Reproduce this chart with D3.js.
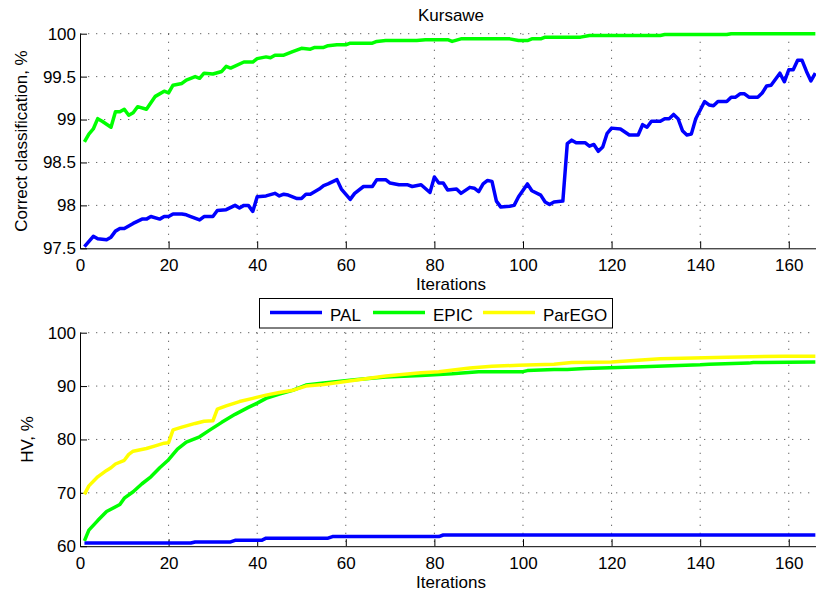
<!DOCTYPE html>
<html>
<head>
<meta charset="utf-8">
<script src="https://cdn.jsdelivr.net/npm/d3@7.8.5/dist/d3.min.js"></script>
<style>
  body { margin: 0; background: #fff; }
  svg { display: block; font-family: "Liberation Sans", Arial, Helvetica, sans-serif; }
</style>
</head>
<body>
<svg id="chart" width="816" height="599"></svg>
<script>
// ---- data ----
const iterTicks = [0, 20, 40, 60, 80, 100, 120, 140, 160]
const ccTicks = [97.5, 98, 98.5, 99, 99.5, 100]
const hvTicks = [60, 70, 80, 90, 100]

const seriesNames = ["PAL", "EPIC", "ParEGO"]
const seriesColors = ["#0000ff", "#00ff00", "#ffff00"]

// top panel: correct classification, %  [iteration, value]
const palCorrect = [[1,97.52],[3,97.64],[4,97.61],[6,97.60],[7,97.63],[8,97.70],[9,97.73],[10,97.73],[12,97.79],[14,97.84],[15,97.84],[16,97.87],[18,97.84],[19,97.87],[20,97.87],[21,97.90],[23,97.90],[24,97.89],[25,97.87],[27,97.83],[28,97.87],[30,97.87],[31,97.94],[33,97.95],[35,98.00],[36,97.97],[37,98.00],[38,98.00],[39,97.93],[40,98.10],[42,98.11],[44,98.14],[45,98.11],[46,98.13],[47,98.12],[49,98.08],[50,98.08],[51,98.13],[52,98.13],[54,98.19],[55,98.23],[56,98.25],[58,98.30],[59,98.19],[61,98.07],[62,98.14],[64,98.22],[66,98.22],[67,98.30],[69,98.30],[70,98.26],[72,98.24],[74,98.24],[75,98.22],[77,98.24],[79,98.15],[80,98.33],[81,98.26],[82,98.26],[83,98.18],[85,98.19],[86,98.14],[88,98.21],[89,98.20],[90,98.16],[91,98.25],[92,98.29],[93,98.28],[94,98.05],[95,97.98],[97,97.99],[98,98.00],[99,98.10],[101,98.25],[102,98.17],[104,98.12],[105,98.04],[106,98.01],[107,98.04],[109,98.05],[110,98.72],[111,98.76],[112,98.73],[114,98.73],[115,98.69],[116,98.71],[117,98.63],[118,98.68],[119,98.84],[120,98.90],[122,98.89],[124,98.82],[126,98.82],[127,98.94],[128,98.91],[129,98.98],[131,98.98],[132,99.01],[133,99.01],[134,99.06],[135,99.01],[136,98.87],[137,98.82],[138,98.83],[139,99.01],[141,99.21],[142,99.17],[143,99.16],[144,99.21],[146,99.21],[147,99.26],[148,99.26],[149,99.30],[150,99.30],[151,99.26],[153,99.26],[154,99.31],[155,99.39],[156,99.40],[158,99.54],[159,99.44],[160,99.58],[161,99.58],[162,99.69],[163,99.69],[164,99.56],[165,99.45],[166,99.54]]
const epicCorrect = [[1,98.74],[2,98.83],[3,98.89],[4,99.01],[5,98.98],[7,98.91],[8,99.09],[9,99.09],[10,99.12],[11,99.05],[12,99.08],[13,99.15],[15,99.12],[17,99.27],[19,99.33],[20,99.31],[21,99.40],[23,99.42],[24,99.46],[26,99.50],[27,99.48],[28,99.54],[30,99.53],[32,99.56],[33,99.62],[34,99.60],[37,99.67],[39,99.67],[40,99.71],[42,99.73],[43,99.72],[44,99.75],[46,99.75],[48,99.79],[50,99.83],[52,99.82],[53,99.84],[55,99.84],[56,99.86],[58,99.87],[60,99.87],[61,99.89],[66,99.89],[67,99.91],[69,99.92],[76,99.92],[78,99.93],[83,99.93],[84,99.91],[86,99.94],[97,99.94],[99,99.92],[101,99.92],[102,99.94],[104,99.94],[105,99.96],[113,99.96],[115,99.98],[131,99.98],[132,99.99],[146,99.99],[147,100.0],[166,100.0]]

// bottom panel: HV, %
const palHV = [[1,60.6],[25,60.6],[26,60.8],[34,60.8],[35,61.1],[41,61.1],[42,61.5],[56,61.5],[57,61.8],[81,61.8],[82,62.1],[166,62.1]]
const epicHV = [[1,61.0],[2,63.0],[4,64.8],[6,66.5],[9,67.8],[10,69.0],[12,70.2],[14,71.7],[16,73.0],[18,74.7],[20,76.2],[22,78.2],[24,79.5],[27,80.5],[29,81.6],[32,83.2],[35,84.7],[38,86.0],[40,86.8],[42,87.7],[45,88.5],[48,89.2],[51,90.2],[55,90.6],[62,91.2],[69,91.7],[77,92.0],[84,92.3],[90,92.7],[100,92.7],[101,92.9],[107,93.1],[110,93.1],[114,93.3],[127,93.6],[140,94.0],[142,94.1],[151,94.3],[152,94.4],[166,94.5]]
const paregoHV = [[1,69.7],[2,71.3],[4,73.0],[6,74.2],[7,74.7],[8,75.4],[10,76.1],[11,77.2],[12,77.8],[15,78.3],[17,78.8],[19,79.3],[20,79.4],[21,81.8],[23,82.3],[26,83.0],[28,83.4],[30,83.5],[31,85.7],[33,86.3],[36,87.1],[39,87.7],[42,88.3],[45,88.8],[48,89.2],[51,90.0],[55,90.3],[62,91.1],[69,91.9],[77,92.5],[81,92.7],[88,93.4],[93,93.7],[99,93.9],[107,94.1],[111,94.4],[120,94.5],[125,94.8],[131,95.1],[146,95.4],[159,95.6],[166,95.6]]

const fontSize = 17
const svg = d3.select("#chart")

// x range runs past the right edge of the picture, as in the original
const x = d3.scaleLinear().domain([0, 167.5]).range([80, 822])

function drawPanel({top, bottom, domain, ticks, tickFormat, yLabel, yLabelX, series, title}) {
  const y = d3.scaleLinear().domain(domain).range([bottom, top])
  const g = svg.append("g")

  // dotted grid
  g.append("g").selectAll("line").data(ticks.slice(1)).join("line")
    .attr("x1", 80).attr("x2", 816)
    .attr("y1", d => y(d)).attr("y2", d => y(d))
  g.append("g").selectAll("line").data(iterTicks.slice(1)).join("line")
    .attr("x1", d => x(d)).attr("x2", d => x(d))
    .attr("y1", top).attr("y2", bottom)
  g.selectAll("g line")
    .attr("stroke", "#000").attr("stroke-opacity", 0.6)
    .attr("stroke-width", 1).attr("stroke-dasharray", "1.3,6.7")

  // axes, ticks pointing inwards like matlab
  const xAxis = d3.axisBottom(x).tickValues(iterTicks).tickSize(-7).tickPadding(12).tickSizeOuter(0)
  const yAxis = d3.axisLeft(y).tickValues(ticks).tickFormat(tickFormat).tickSize(-7).tickPadding(4).tickSizeOuter(0)

  const gx = g.append("g").attr("transform", `translate(0,${bottom})`).call(xAxis)
  const gy = g.append("g").attr("transform", "translate(80,0)").call(yAxis)
  for (const a of [gx, gy]) {
    a.select(".domain").attr("stroke", "#000")
    a.selectAll(".tick line").attr("stroke", "#000")
    a.selectAll("text").attr("font-size", fontSize).attr("fill", "#000").attr("font-family", null)
  }
  gx.selectAll("text").attr("dy", "0.65em")

  // lines
  const line = d3.line().x(d => x(d[0])).y(d => y(d[1]))
  g.append("g").selectAll("path").data(series).join("path")
    .attr("d", d => line(d.values))
    .attr("fill", "none")
    .attr("stroke", d => d.color)
    .attr("stroke-width", 3.5)
    .attr("stroke-linejoin", "round")

  g.append("text")
    .attr("x", 451).attr("y", bottom + 42)
    .attr("text-anchor", "middle").attr("font-size", fontSize)
    .text("Iterations")

  g.append("text")
    .attr("transform", `translate(${yLabelX},${(top + bottom) / 2}) rotate(-90)`)
    .attr("text-anchor", "middle").attr("font-size", fontSize)
    .text(yLabel)

  if (title) {
    g.append("text")
      .attr("x", 451).attr("y", top - 13)
      .attr("text-anchor", "middle").attr("font-size", fontSize)
      .text(title)
  }
  return g
}

drawPanel({
  top: 33.7, bottom: 248.3, domain: [97.5, 100], ticks: ccTicks,
  tickFormat: d3.format("~g"),
  yLabel: "Correct classification, %", yLabelX: 27, title: "Kursawe",
  series: [
    {values: palCorrect, color: seriesColors[0]},
    {values: epicCorrect, color: seriesColors[1]}
  ]
})

drawPanel({
  top: 332.7, bottom: 546.2, domain: [60, 100], ticks: hvTicks,
  tickFormat: d3.format("d"),
  yLabel: "HV, %", yLabelX: 33,
  series: [
    {values: palHV, color: seriesColors[0]},
    {values: epicHV, color: seriesColors[1]},
    {values: paregoHV, color: seriesColors[2]}
  ]
})

// legend
const legend = svg.append("g")
legend.append("rect")
  .attr("x", 259.5).attr("y", 298.5).attr("width", 353).attr("height", 29.5)
  .attr("fill", "#fff").attr("stroke", "#000").attr("stroke-width", 1)
const legendX = [270, 373, 483]
const item = legend.selectAll("g.item").data(seriesNames).join("g")
  .attr("class", "item")
  .attr("transform", (d, i) => `translate(${legendX[i]},312.5)`)
item.append("line")
  .attr("x1", 0).attr("x2", 52)
  .attr("stroke", (d, i) => seriesColors[i]).attr("stroke-width", 3.5)
item.append("text")
  .attr("x", 60).attr("y", 8.5).attr("font-size", fontSize)
  .text(d => d)
</script>
</body>
</html>
